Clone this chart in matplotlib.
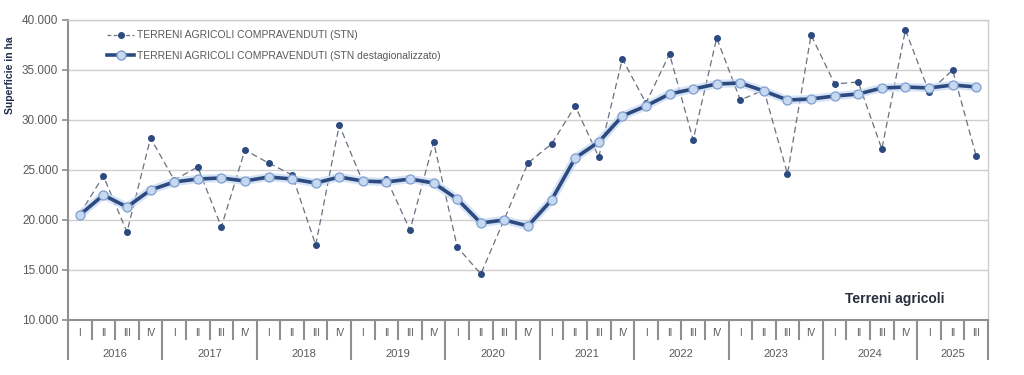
import numpy as np
import matplotlib
matplotlib.use("Agg")
import matplotlib.pyplot as plt
from matplotlib.lines import Line2D

plt.rcParams['font.family'] = ['Liberation Sans', 'DejaVu Sans']

# Quarterly data, 2016 Q1 - 2025 Q3
years = ['2016', '2017', '2018', '2019', '2020', '2021', '2022', '2023', '2024', '2025']
quarters = ['I', 'II', 'III', 'IV']

stn = [20600, 24400, 18800, 28200, 24000, 25300, 19300, 27000, 25700, 24500,
       17500, 29500, 23800, 24100, 19000, 27800, 17300, 14600, 20100, 25700,
       27600, 31400, 26300, 36100, 31700, 36600, 28000, 38200, 32000, 33000,
       24600, 38500, 33600, 33800, 27100, 39000, 32800, 35000, 26400]

stn_dest = [20500, 22500, 21300, 23000, 23800, 24100, 24200, 23900, 24300, 24100,
            23700, 24300, 23900, 23800, 24100, 23700, 22100, 19700, 20000, 19400,
            22000, 26200, 27800, 30400, 31400, 32600, 33100, 33600, 33700, 32900,
            32000, 32100, 32400, 32600, 33200, 33300, 33200, 33500, 33300]

n = len(stn)
x = np.arange(n)
q_labels = [quarters[i % 4] for i in range(n)]

navy = '#2c4a80'
light = '#c6d9f1'
grid_c = '#cfcfcf'
axis_c = '#8f8f8f'
text_c = '#595959'
dash_c = '#6a7080'

fig = plt.figure(figsize=(10.24, 3.75), dpi=100)
ax = fig.add_axes([68 / 1024, 55 / 375, 920 / 1024, 300 / 375])

# raw series: dashed with small dots
ax.plot(x, stn, color=dash_c, lw=0.9, dashes=(5, 3), zorder=2)
ax.plot(x, stn, ls='none', marker='o', ms=4, color=navy, zorder=3)
# seasonal adjusted: glow + thick line + light markers
ax.plot(x, stn_dest, color=light, lw=6, alpha=0.7, solid_capstyle='round', zorder=4)
ax.plot(x, stn_dest, color=navy, lw=2.6, marker='o', ms=6.5,
        mfc=light, mec='#7f9fd0', mew=0.9, zorder=5)

ax.set_xlim(-0.5, n - 0.5)
ax.set_ylim(10000, 40000)
yt = np.arange(10000, 40001, 5000)
ax.set_yticks(yt)
ax.set_yticklabels([f"{v:,}".replace(",", ".") for v in yt], fontsize=8.5, color=text_c)
ax.yaxis.grid(True, color=grid_c, lw=1)
ax.set_axisbelow(True)
ax.tick_params(axis='y', length=4, width=1.2, color=axis_c, pad=3)

# x axis: separators between quarters, longer between years
bounds = np.arange(-0.5, n, 1.0)
year_bounds = [b for b in bounds if int(b + 0.5) % 4 == 0] + [n - 0.5]
ax.set_xticks(year_bounds)
ax.set_xticklabels([''] * len(year_bounds))
ax.set_xticks(bounds, minor=True)
ax.tick_params(axis='x', which='major', length=29, width=1.5, color=axis_c)
ax.tick_params(axis='x', which='minor', length=14.5, width=1.5, color=axis_c)

tr = ax.get_xaxis_transform()
for i, lab in enumerate(q_labels):
    ax.text(i, -0.043, lab, transform=tr, ha='center', va='center',
            fontsize=7, color=text_c)
for k, yr in enumerate(years):
    start = 4 * k
    end = min(4 * k + 3, n - 1)
    ax.text((start + end) / 2, -0.113, yr, transform=tr, ha='center', va='center',
            fontsize=8, color=text_c)

for s in ['left', 'bottom']:
    ax.spines[s].set_color(axis_c)
    ax.spines[s].set_linewidth(1.5)
for s in ['top', 'right']:
    ax.spines[s].set_color(grid_c)
    ax.spines[s].set_linewidth(1)

ax.set_ylabel('Superficie in ha', fontsize=7.5, fontweight='bold', color='#1f2d4d')
ax.yaxis.set_label_coords(-0.058, 0.817)

ax.text(0.953, 0.07, 'Terreni agricoli', transform=ax.transAxes, ha='right',
        va='center', fontsize=10, fontweight='bold', color='#2a2f3d')

handles = [
    Line2D([], [], color=dash_c, lw=0.9, dashes=(3, 2), marker='o', ms=4,
           mfc=navy, mec=navy),
    Line2D([], [], color=navy, lw=2.6, marker='o', ms=6.5, mfc=light, mec='#7f9fd0'),
]
labels = ['TERRENI AGRICOLI COMPRAVENDUTI (STN)',
          'TERRENI AGRICOLI COMPRAVENDUTI (STN destagionalizzato)']
ax.legend(handles, labels, loc='upper left', bbox_to_anchor=(0.035, 0.99),
          frameon=False, fontsize=7.5, labelcolor=text_c, handlelength=2.5,
          handletextpad=0.3, labelspacing=1.0, borderpad=0.2)

fig.savefig('out.png', dpi=100)
